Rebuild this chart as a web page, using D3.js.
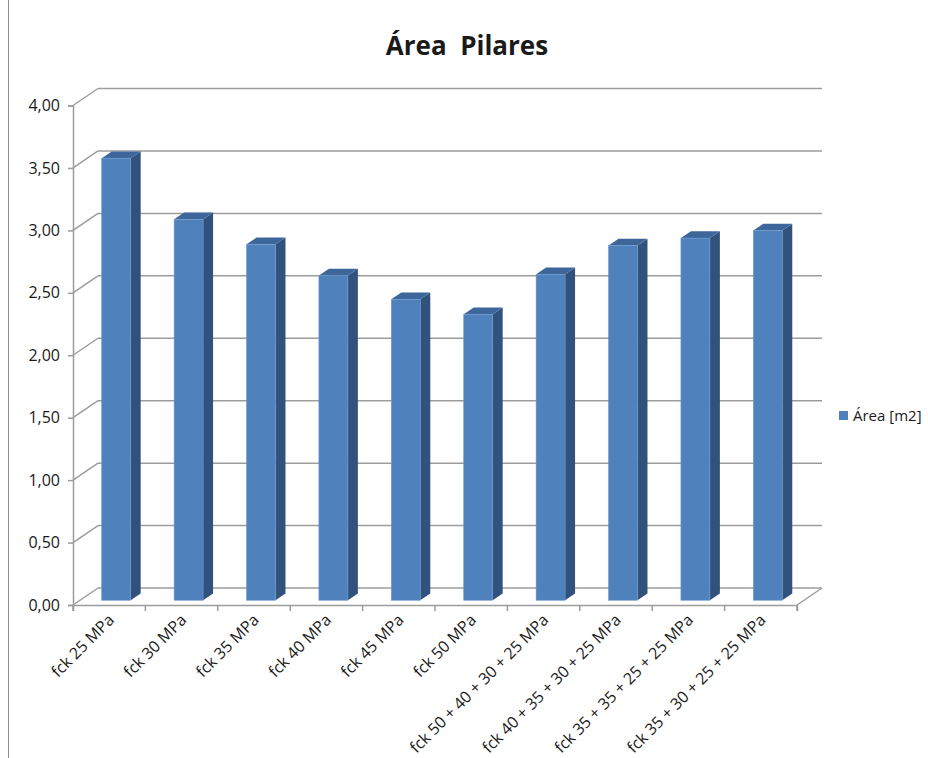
<!DOCTYPE html>
<html>
<head>
<meta charset="utf-8">
<script src="https://cdn.jsdelivr.net/npm/d3@7/dist/d3.min.js"></script>
<style>
  html, body { margin: 0; padding: 0; background: #fff; }
  svg { display: block; }
  text { font-family: "Open Sans", "Noto Sans", sans-serif; fill: #1a1a1a; }
</style>
</head>
<body>
<svg id="chart" width="928" height="758"></svg>
<script>
// Column data: pillar area per concrete strength class
const categories = [
  "fck 25 MPa", "fck 30 MPa", "fck 35 MPa", "fck 40 MPa", "fck 45 MPa",
  "fck 50 MPa", "fck 50 + 40 + 30 + 25 MPa", "fck 40 + 35 + 30 + 25 MPa",
  "fck 35 + 35 + 25 + 25 MPa", "fck 35 + 30 + 25 + 25 MPa"
];
const areaValues = [3.54, 3.05, 2.85, 2.60, 2.41, 2.29, 2.61, 2.84, 2.90, 2.96];
const yTicks = [0, 0.5, 1, 1.5, 2, 2.5, 3, 3.5, 4];
const seriesName = "Área [m2]";
const chartTitle = "Área  Pilares";

const svg = d3.select("#chart");

// 3D box geometry: front plane plus an oblique depth offset to the back wall
const DX = 25, DY = -17;
const depthT0 = 0.28, depthT1 = 0.68;   // bar occupies this slice of the depth

const x = d3.scaleBand().domain(categories).range([73, 797]);
const y = d3.scaleLinear().domain([0, 4]).range([605, 105.5]);
const barFrac = 0.4;

const gridColor = "#9c9c9c";
const faceFront = "#4f81bd", faceTop = "#3d679b", faceSide = "#31527c";

// chart area border (left edge)
svg.append("line").attr("x1", 8.5).attr("x2", 8.5).attr("y1", 0).attr("y2", 758)
  .attr("stroke", "#8c8c8c").attr("stroke-width", 1);

// title
svg.append("text")
  .attr("x", 467).attr("y", 55)
  .attr("text-anchor", "middle")
  .style("white-space", "pre")
  .attr("font-size", 26).attr("font-weight", "bold")
  .text(chartTitle);

// back-wall gridlines and left-wall diagonals
const grid = svg.append("g").attr("fill", "none").attr("stroke", gridColor).attr("stroke-width", 1.5);
yTicks.forEach(v => {
  const yf = y(v), yb = y(v) + DY;
  grid.append("line").attr("x1", x.range()[0] + DX).attr("x2", x.range()[1] + DX)
    .attr("y1", yb).attr("y2", yb);
  grid.append("line").attr("x1", x.range()[0]).attr("x2", x.range()[0] + DX)
    .attr("y1", yf).attr("y2", yb);
});
// floor outline
grid.append("line").attr("x1", x.range()[1]).attr("x2", x.range()[1] + DX)
  .attr("y1", y(0)).attr("y2", y(0) + DY);

// value axis (front)
const yAxis = d3.axisLeft(y).tickValues(yTicks).tickSize(5).tickPadding(8)
  .tickFormat(d => d3.format(".2f")(d).replace(".", ","));
const gy = svg.append("g").attr("transform", `translate(${x.range()[0]},0)`).call(yAxis);
gy.select(".domain").attr("stroke", gridColor).attr("stroke-width", 1.5);
gy.selectAll(".tick line").attr("stroke", gridColor).attr("stroke-width", 1.5);
gy.selectAll(".tick text").attr("font-size", 16).attr("fill", "#1a1a1a")
  .attr("font-family", "'Open Sans', sans-serif");

// category axis (front floor edge)
const xAxis = d3.axisBottom(x).tickSize(6).tickFormat("");
const gx = svg.append("g").attr("transform", `translate(0,${y(0)})`).call(xAxis);
gx.select(".domain").attr("stroke", gridColor).attr("stroke-width", 1.5);
gx.selectAll(".tick").remove();
// tick marks at category boundaries
const bounds = categories.map(c => x(c)).concat([x.range()[1]]);
gx.selectAll("line.b").data(bounds).enter().append("line")
  .attr("x1", d => d).attr("x2", d => d).attr("y1", 0).attr("y2", 6)
  .attr("stroke", gridColor).attr("stroke-width", 1.5);

// rotated category labels
svg.append("g").selectAll("text").data(categories).enter().append("text")
  .attr("transform", d => `translate(${x(d) + x.bandwidth() / 2 + 6},${y(0) + 16}) rotate(-45)`)
  .attr("text-anchor", "end")
  .attr("font-size", 16)
  .text(d => d);

// 3D columns
const bw = x.bandwidth() * barFrac;
const bars = svg.append("g");
categories.forEach((c, i) => {
  const v = areaValues[i];
  const x0 = x(c) + (x.bandwidth() - bw) / 2 + DX * depthT0;
  const yBase = y(0) + DY * depthT0;
  const yTop = y(v) + DY * depthT0;
  const ddx = DX * (depthT1 - depthT0), ddy = DY * (depthT1 - depthT0);
  const g = bars.append("g");
  g.append("path").attr("fill", faceSide)
    .attr("d", `M${x0 + bw},${yTop}L${x0 + bw + ddx},${yTop + ddy}L${x0 + bw + ddx},${yBase + ddy}L${x0 + bw},${yBase}Z`);
  g.append("path").attr("fill", faceTop)
    .attr("d", `M${x0},${yTop}L${x0 + bw},${yTop}L${x0 + bw + ddx},${yTop + ddy}L${x0 + ddx},${yTop + ddy}Z`);
  g.append("rect").attr("x", x0).attr("y", yTop).attr("width", bw).attr("height", yBase - yTop)
    .attr("fill", faceFront).attr("stroke", "#6f98cc").attr("stroke-width", 0.6);
});

// legend
const lg = svg.append("g").attr("transform", "translate(839,411)");
lg.append("rect").attr("width", 9).attr("height", 9).attr("fill", faceFront);
lg.append("text").attr("x", 14).attr("y", 10).attr("font-size", 15).text(seriesName);
</script>
</body>
</html>
